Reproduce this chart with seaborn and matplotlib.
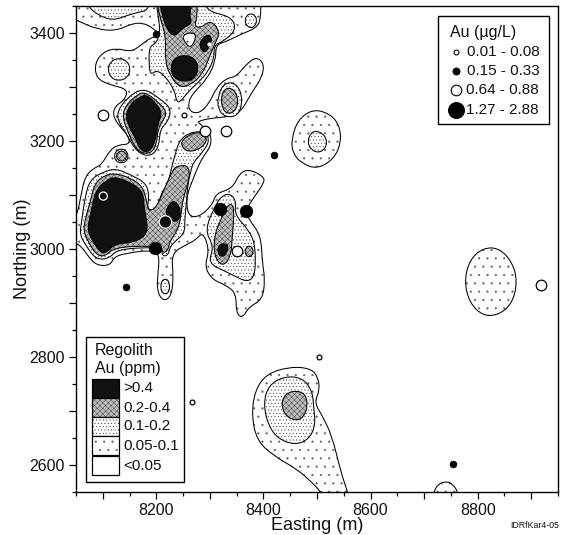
import matplotlib
matplotlib.use('Agg')
import matplotlib.pyplot as plt
from matplotlib.patches import PathPatch, Rectangle
from matplotlib.path import Path
from matplotlib.ticker import MultipleLocator, FuncFormatter
import seaborn as sns

# contours, (easting, northing) in metres
band1_main = [(8030,3470),(8030,3431),(8051,3424),(8088,3407),(8125,3404),(8153,3417),(8175,3419),(8194,3409),
    (8206,3396),(8187,3390),(8172,3378),(8153,3365),(8125,3372),(8101,3365),(8085,3344),(8088,3316),(8113,3304),
    (8147,3296),(8141,3276),(8122,3264),(8119,3245),(8135,3223),(8147,3211),(8151,3194),(8129,3193),(8113,3183),
    (8098,3156),(8082,3149),(8067,3134),(8060,3103),(8051,3057),(8030,3051),(8030,3014),(8051,3011),(8063,3001),
    (8073,2986),(8088,2970),(8113,2969),(8122,2986),(8144,2992),(8187,2998),(8206,2992),(8203,2955),(8201,2924),
    (8212,2903),(8228,2912),(8232,2949),(8228,2992),(8256,3008),(8274,3017),(8287,3032),(8299,2998),(8290,2967),
    (8305,2943),(8330,2933),(8349,2918),(8349,2881),(8361,2872),(8373,2893),(8398,2906),(8403,2943),(8398,2974),
    (8395,3026),(8373,3054),(8367,3072),(8383,3097),(8401,3122),(8401,3134),(8373,3148),(8355,3140),(8342,3112),
    (8311,3103),(8305,3082),(8280,3059),(8259,3061),(8256,3097),(8268,3128),(8275,3146),(8287,3171),(8302,3190),
    (8302,3214),(8280,3233),(8277,3236),(8299,3242),(8336,3245),(8358,3254),(8377,3288),(8398,3319),(8401,3344),
    (8386,3356),(8367,3341),(8349,3319),(8330,3316),(8311,3297),(8299,3270),(8280,3251),(8263,3254),(8259,3270),
    (8268,3288),(8296,3316),(8311,3350),(8311,3378),(8330,3384),(8361,3399),(8386,3409),(8395,3424),(8395,3470)]
band1_east = [(8452,3202),(8464,3239),(8492,3259),(8523,3251),(8542,3230),(8545,3196),(8530,3165),(8499,3148),(8471,3159),(8455,3177)]
band1_oval = [(8775,2940),(8785,2980),(8810,3002),(8840,3002),(8865,2975),(8874,2940),(8865,2900),(8840,2878),(8810,2876),(8785,2900)]
band1_south = [(8507,2540),(8507,2551),(8488,2570),(8463,2592),(8419,2617),(8388,2645),(8378,2691),(8384,2738),(8406,2769),
    (8450,2782),(8488,2779),(8502,2763),(8505,2738),(8495,2716),(8510,2691),(8528,2654),(8544,2589),(8557,2550),(8560,2540)]
band1_edge = [(8718,2540),(8718,2550),(8726,2565),(8742,2570),(8754,2564),(8763,2550),(8763,2540)]
hole_wedge = [(8169,3170),(8184,3171),(8205,3190),(8206,3214),(8243,3231),(8234,3217),(8228,3190),(8215,3159),(8218,3149),
    (8222,3128),(8206,3109),(8191,3072),(8178,3075),(8163,3115),(8151,3140),(8158,3162)]
hole_sliver = [(8200,3328),(8206,3316),(8209,3304),(8225,3279),(8222,3274),(8209,3288),(8200,3310),(8197,3322)]
hole_top = [(8342,3455),(8349,3439),(8358,3442),(8362,3455)]

band2_nw = [(8060,3470),(8073,3449),(8091,3433),(8119,3423),(8147,3433),(8169,3439),(8184,3442),(8190,3470)]
band2_centre = [(8197,3470),(8206,3418),(8206,3399),(8200,3381),(8187,3375),(8186,3344),(8189,3322),(8200,3331),(8215,3322),
    (8234,3294),(8237,3276),(8243,3270),(8259,3291),(8280,3310),(8296,3328),(8308,3353),(8308,3378),(8324,3384),
    (8346,3402),(8346,3421),(8330,3433),(8299,3439),(8277,3470)]
band2_ring = [(8109,3333),(8115,3348),(8130,3354),(8146,3348),(8152,3333),(8146,3317),(8130,3311),(8115,3317)]
band2_ne = [(8365,3423),(8369,3433),(8377,3436),(8384,3433),(8388,3423),(8384,3413),(8377,3409),(8369,3413)]
band2_lobe = [(8315,3282),(8324,3304),(8342,3310),(8358,3294),(8360,3264),(8349,3245),(8327,3245),(8315,3260)]
band2_diamond = [(8175,3299),(8206,3279),(8228,3260),(8222,3236),(8207,3222),(8205,3190),(8191,3172),(8169,3176),(8153,3196),
    (8144,3214),(8129,3236),(8127,3254),(8144,3279)]
band2_spot = [(8121,3172),(8125,3182),(8135,3186),(8144,3182),(8148,3172),(8144,3162),(8135,3159),(8125,3162)]
band2_west = [(8125,3149),(8153,3137),(8181,3122),(8187,3097),(8182,3072),(8203,3072),(8206,3097),(8222,3122),(8228,3149),
    (8234,3171),(8243,3202),(8265,3217),(8293,3217),(8299,3199),(8287,3180),(8268,3159),(8265,3146),(8259,3122),
    (8256,3085),(8253,3054),(8253,3029),(8231,3011),(8225,3001),(8222,2989),(8212,2986),(8209,3001),(8175,3003),
    (8125,2998),(8113,2983),(8088,2980),(8070,3004),(8057,3026),(8060,3048),(8067,3097),(8076,3128),(8101,3143)]
band2_se = [(8311,3082),(8290,3035),(8308,3004),(8296,2974),(8330,2958),(8383,2932),(8386,3004),(8373,3035),(8346,3063),
    (8349,3091),(8336,3103),(8321,3097)]
band2_tail = [(8208,2930),(8210,2941),(8217,2945),(8223,2941),(8225,2930),(8223,2920),(8217,2916),(8210,2920)]
band2_east = [(8482,3199),(8489,3216),(8502,3219),(8517,3208),(8518,3189),(8505,3178),(8489,3183)]
band2_south = [(8400,2713),(8409,2747),(8438,2764),(8472,2762),(8491,2738),(8494,2707),(8497,2673),(8485,2648),(8460,2637),(8428,2648),(8409,2673)]
hole_centre = [(8248,3396),(8268,3402),(8275,3393),(8265,3372),(8254,3381)]

band3_west = [(8125,3140),(8153,3131),(8175,3115),(8182,3088),(8186,3069),(8201,3078),(8215,3112),(8231,3146),(8237,3153),
    (8259,3156),(8263,3134),(8249,3091),(8246,3060),(8240,3035),(8225,3014),(8222,2998),(8213,2992),(8209,3003),
    (8187,3006),(8122,3003),(8104,2986),(8088,2989),(8076,3008),(8065,3029),(8065,3048),(8076,3085),(8085,3122),(8104,3137)]
band3_centre = [(8197,3470),(8209,3421),(8218,3393),(8216,3350),(8225,3322),(8243,3299),(8265,3304),(8287,3325),(8299,3356),
    (8310,3381),(8319,3402),(8302,3424),(8284,3410),(8271,3412),(8277,3433),(8275,3470)]
band3_diamond = [(8178,3291),(8203,3273),(8220,3254),(8212,3236),(8203,3223),(8201,3196),(8191,3177),(8169,3178),(8156,3196),
    (8147,3217),(8137,3242),(8141,3264),(8163,3285)]
band3_lobe = [(8321,3282),(8327,3296),(8339,3299),(8350,3288),(8353,3270),(8346,3254),(8333,3250),(8323,3260)]
band3_mid = [(8244,3196),(8259,3211),(8280,3217),(8293,3211),(8293,3196),(8277,3183),(8256,3180)]
band3_spot = [(8125,3172),(8128,3179),(8135,3182),(8142,3179),(8145,3172),(8142,3165),(8135,3162),(8128,3165)]
band3_se = [(8324,3063),(8336,3085),(8346,3078),(8342,3023),(8339,2986),(8324,2967),(8308,2986),(8308,3026)]
band3_se2 = [(8365,2995),(8368,3003),(8373,3006),(8379,3003),(8381,2995),(8379,2988),(8373,2985),(8368,2988)]
band3_south = [(8433,2713),(8441,2732),(8460,2738),(8478,2732),(8483,2710),(8475,2688),(8460,2682),(8441,2691)]

band4_west = [(8125,3134),(8162,3118),(8176,3102),(8177,3075),(8184,3044),(8180,3024),(8156,3012),(8122,3009),(8110,2996),
    (8098,2991),(8083,3011),(8071,3035),(8077,3063),(8086,3108),(8107,3128)]
band4_small = [(8235,3090),(8246,3073),(8242,3052),(8230,3051),(8216,3066),(8224,3084)]
band4_top = [(8204,3470),(8213,3421),(8231,3390),(8250,3410),(8267,3418),(8261,3433),(8270,3470)]
band4_round = [(8226,3335),(8233,3353),(8253,3360),(8272,3353),(8279,3335),(8272,3316),(8253,3309),(8233,3316)]
band4_ne = [(8297,3398),(8304,3390),(8300,3376),(8290,3362),(8280,3375),(8284,3388)]
band4_diamond = [(8181,3286),(8199,3271),(8211,3251),(8202,3230),(8199,3202),(8188,3180),(8171,3181),(8161,3205),(8151,3223),
    (8142,3245),(8151,3268),(8168,3281)]
band4_se = [(8315,3005),(8324,3011),(8335,3007),(8331,2991),(8323,2985),(8315,2991)]

# water samples
small_open_e = [8251, 8503, 8266]
small_open_n = [3248, 2800, 2717]
small_solid_e = [8199, 8420, 8144, 8754]
small_solid_n = [3399, 3174, 2930, 2601]
large_open_e = [8101, 8290, 8330, 8350, 8919]
large_open_n = [3248, 3218, 3218, 2997, 2933]
large_solid_e = [8319, 8368, 8197, 8217]
large_solid_n = [3074, 3071, 3001, 3050]
ringed_e = [8101, 8217]
ringed_n = [3098, 3050]
white_dot_e = [8299]
white_dot_n = [3379]

water_labels = ['0.01 - 0.08', '0.15 - 0.33', '0.64 - 0.88', '1.27 - 2.88']
regolith_labels = ['>0.4', '0.2-0.4', '0.1-0.2', '0.05-0.1', '<0.05']

sns.set_style('ticks')
plt.rcParams['font.family'] = ['Liberation Sans', 'DejaVu Sans']
plt.rcParams['hatch.linewidth'] = 0.3

STYLE = {
    0: dict(facecolor='white', hatch=None),
    1: dict(facecolor='white', hatch='..'),
    2: dict(facecolor='white', hatch='.....'),
    3: dict(facecolor='#bdbdbd', hatch='xxxxxx'),
    4: dict(facecolor='#111111', hatch=None),
}
# the hatch takes its colour from the edge, so the dots are laid down first in grey
HATCH_COLOR = {0: 'black', 1: '#5a5a5a', 2: '#333333', 3: '#333333', 4: 'black'}


def smooth_path(points):
    # closed quadratic curve with the read points as control vertices
    verts = []
    codes = []
    n = len(points)
    for i in range(n):
        x0, y0 = points[i]
        x1, y1 = points[(i + 1) % n]
        mid = ((x0 + x1) / 2, (y0 + y1) / 2)
        if i == 0:
            xl, yl = points[-1]
            verts.append(((xl + x0) / 2, (yl + y0) / 2))
            codes.append(Path.MOVETO)
        verts += [(x0, y0), mid]
        codes += [Path.CURVE3, Path.CURVE3]
    return Path(verts, codes)


def add_band(ax, level, polygons, zorder=None):
    z = zorder or level + 1
    for pts in polygons:
        ax.add_patch(PathPatch(smooth_path(pts), edgecolor=HATCH_COLOR[level], linewidth=0, zorder=z, **STYLE[level]))
        ax.add_patch(PathPatch(smooth_path(pts), fill=False, edgecolor='black', linewidth=0.75, zorder=z))


def add_swatch(sheet, y, level):
    sheet.add_patch(Rectangle((92, y), 27, 19.3, edgecolor=HATCH_COLOR[level], linewidth=0, **STYLE[level]))
    sheet.add_patch(Rectangle((92, y), 27, 19.3, fill=False, edgecolor='black', linewidth=0.9))


fig = plt.figure(figsize=(5.64, 5.35), dpi=100)
ax = fig.add_axes([76 / 564, 1 - 492 / 535, 482 / 564, 486 / 535])
ax.set_xlim(8050, 8950)
ax.set_ylim(2550, 3450)

add_band(ax, 1, [band1_main, band1_east, band1_oval, band1_south, band1_edge])
add_band(ax, 0, [hole_wedge, hole_sliver, hole_top], zorder=1.5)
add_band(ax, 2, [band2_nw, band2_centre, band2_ring, band2_ne, band2_lobe, band2_diamond, band2_spot,
                 band2_west, band2_se, band2_tail, band2_east, band2_south])
add_band(ax, 3, [band3_west, band3_centre, band3_diamond, band3_lobe, band3_mid, band3_spot, band3_se, band3_se2, band3_south])
add_band(ax, 1, [hole_centre], zorder=4.5)
add_band(ax, 4, [band4_west, band4_small, band4_top, band4_round, band4_ne, band4_diamond, band4_se])

sns.scatterplot(x=small_open_e, y=small_open_n, s=12, color='white', edgecolor='black', linewidth=0.9, legend=False, ax=ax, zorder=8)
sns.scatterplot(x=small_solid_e, y=small_solid_n, s=24, color='black', edgecolor='black', linewidth=0.5, legend=False, ax=ax, zorder=8)
sns.scatterplot(x=large_open_e, y=large_open_n, s=58, color='white', edgecolor='black', linewidth=0.9, legend=False, ax=ax, zorder=8)
sns.scatterplot(x=large_solid_e, y=large_solid_n, s=82, color='black', edgecolor='black', linewidth=0.5, legend=False, ax=ax, zorder=8)
ax.scatter(ringed_e, ringed_n, s=[34, 82], color='#111111', edgecolor='white', linewidth=0.9, zorder=9)
sns.scatterplot(x=white_dot_e, y=white_dot_n, s=7, color='white', edgecolor='white', linewidth=0.3, legend=False, ax=ax, zorder=9)

ax.xaxis.set_major_locator(MultipleLocator(100))
ax.xaxis.set_minor_locator(MultipleLocator(50))
ax.yaxis.set_major_locator(MultipleLocator(100))
ax.yaxis.set_minor_locator(MultipleLocator(50))
ax.xaxis.set_major_formatter(FuncFormatter(lambda v, p: f'{v:.0f}' if round(v) % 200 == 0 else ''))
ax.yaxis.set_major_formatter(FuncFormatter(lambda v, p: f'{v:.0f}' if round(v) % 200 == 0 else ''))
ax.tick_params(which='major', length=5, width=0.9, labelsize=11.5, pad=3, color='black', labelcolor='#111111')
ax.tick_params(which='minor', length=3, width=0.9, color='black')
for side in ax.spines:
    ax.spines[side].set_linewidth(1.0)
    ax.spines[side].set_color('black')
    ax.spines[side].set_zorder(12)
ax.set_xlabel('Easting (m)', fontsize=13, labelpad=-1, color='#111111')
ax.set_ylabel('Northing (m)', fontsize=13, labelpad=-1, color='#111111')

# legends sit on a sheet measured in image pixels
sheet = fig.add_axes([0, 0, 1, 1], zorder=20)
sheet.set_xlim(0, 564)
sheet.set_ylim(535, 0)
sheet.axis('off')
sheet.patch.set_alpha(0)

sheet.add_patch(Rectangle((438, 16), 111, 108, facecolor='white', edgecolor='black', linewidth=1.0))
sheet.text(450, 33, 'Au (µg/L)', fontsize=11.5, va='center', color='#111111')
row_y = [52, 71, 90, 110]
row_x = [467, 467, 466, 466]
key_s = [12, 24, 58, 130]
key_face = ['white', 'black', 'white', 'black']
for y, x, s, face, label in zip(row_y, row_x, key_s, key_face, water_labels):
    sns.scatterplot(x=[456], y=[y], s=s, color=face, edgecolor='black', linewidth=0.8, legend=False, ax=sheet)
    sheet.text(x, y, label, fontsize=11, va='center', color='#111111')

sheet.add_patch(Rectangle((86, 337), 98, 145, facecolor='white', edgecolor='black', linewidth=1.0))
sheet.text(95, 350, 'Regolith', fontsize=11.5, va='center', color='#111111')
sheet.text(95, 368, 'Au (ppm)', fontsize=11.5, va='center', color='#111111')
swatch_y = [379, 398, 417, 436, 456]
swatch_level = [4, 3, 2, 1, 0]
for y, level, label in zip(swatch_y, swatch_level, regolith_labels):
    add_swatch(sheet, y, level)
    sheet.text(123, y + 9.5, label, fontsize=11, va='center', color='#111111')

sheet.text(510, 526, 'IDRfKar4-05', fontsize=6.3, va='center', color='#111111')

fig.savefig('out.png', dpi=100)
plt.close()
